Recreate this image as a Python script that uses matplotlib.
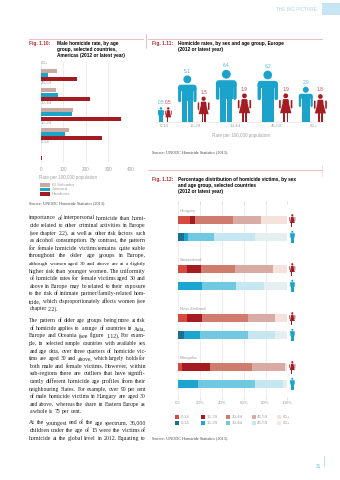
import matplotlib
matplotlib.use('Agg')
import matplotlib.pyplot as plt
import matplotlib as mpl
from matplotlib.patches import Rectangle, Circle, FancyBboxPatch, Polygon
import numpy as np

mpl.rcParams['font.family'] = 'Liberation Sans'

# Fig. 1.10 - male homicide rate by age group, Americas
age_groups_110 = ['60+', '45-59', '30-44', '15-29', '0-14']
countries_110 = ['El Salvador', 'Jamaica', 'Honduras']
el_salvador = [74, 67, 145, 127, 1]
jamaica = [32, 78, 138, 109, 1]
honduras = [163, 219, 355, 274, 4]
rate_ticks = [0, 100, 200, 300, 400]

# Fig. 1.11 - homicide rates by sex and age group, Europe
ages_111 = ['0-14', '15-29', '30-44', '45-59', '60+']
male_rate = [0.5, 5.1, 6.4, 6.2, 2.9]
female_rate = [0.5, 1.5, 1.9, 1.9, 1.8]

# Fig. 1.12 - percentage distribution by sex and age group
countries_112 = ['Hungary', 'Switzerland', 'New Zealand', 'Mongolia']
ages_112 = ['0-14', '15-29', '30-44', '45-59', '60+']
female_share = [[11, 4, 35, 26, 24],
                [8, 13, 31, 35, 13],
                [8, 14, 42, 25, 11],
                [3, 26, 39, 30, 2]]
male_share = [[5, 4, 24, 37, 30],
              [0, 22, 31, 26, 21],
              [5, 15, 44, 25, 11],
              [0, 18, 52, 26, 4]]
pct_ticks = [0, 20, 40, 60, 80, 100]

RED = '#b8262c'
GREY = '#a0a0a0'
CYAN = '#1ba3cb'
DARKRED = '#a51c22'
TEXT = '#231f20'
SERIF = 'Liberation Serif'
colors_110 = ['#c9a9a1', '#1ba3c9', '#a21c22']
female_colors = ['#d64a3f', '#a41c22', '#cf7c6e', '#d8aca4', '#f6e2dc']
male_colors = ['#1c6f93', '#1ba6cf', '#70c8e1', '#c6e7f1', '#e6efef']

fig = plt.figure(figsize=(3.4, 4.8), dpi=100)
pg = fig.add_axes([0, 0, 1, 1])
pg.set_xlim(0, 340)
pg.set_ylim(480, 0)
pg.axis('off')
renderer = fig.canvas.get_renderer()


def box(x0, y0, x1, y1):
    # pixel box -> figure fraction rect
    return [x0 / 340, 1 - y1 / 480, (x1 - x0) / 340, (y1 - y0) / 480]


def male_icon(ax, cx, yb, h, color):
    w = 0.40 * h
    r = 0.085 * h
    top = yb - 0.80 * h
    ax.add_patch(Circle((cx, yb - h + r), r, color=color, lw=0))
    ax.add_patch(FancyBboxPatch((cx - w / 2, top), w, 0.14 * h,
                                boxstyle=f'round,pad=0,rounding_size={0.06 * h}', color=color, lw=0))
    ax.add_patch(Rectangle((cx - 0.3 * w, top + 0.05 * h), 0.6 * w, 0.31 * h, color=color, lw=0))
    for s in (-1, 1):
        ax.add_patch(FancyBboxPatch((cx + s * 0.415 * w - 0.085 * w, top + 0.05 * h), 0.17 * w, 0.33 * h,
                                    boxstyle=f'round,pad=0,rounding_size={0.04 * h}', color=color, lw=0))
        ax.add_patch(Rectangle((cx + s * 0.15 * w - 0.14 * w, yb - 0.46 * h), 0.28 * w, 0.46 * h,
                               color=color, lw=0))


def female_icon(ax, cx, yb, h, color):
    w = 0.50 * h
    r = 0.085 * h
    ax.add_patch(Circle((cx, yb - h + r), r, color=color, lw=0))
    ax.add_patch(FancyBboxPatch((cx - 0.22 * w, yb - 0.80 * h), 0.44 * w, 0.16 * h,
                                boxstyle=f'round,pad=0,rounding_size={0.05 * h}', color=color, lw=0))
    ax.add_patch(Polygon([(cx - 0.2 * w, yb - 0.70 * h), (cx + 0.2 * w, yb - 0.70 * h),
                          (cx + 0.4 * w, yb - 0.30 * h), (cx - 0.4 * w, yb - 0.30 * h)],
                         closed=True, color=color, lw=0))
    for s in (-1, 1):
        ax.add_patch(FancyBboxPatch((cx + s * 0.41 * w - 0.06 * w, yb - 0.77 * h), 0.12 * w, 0.30 * h,
                                    boxstyle=f'round,pad=0,rounding_size={0.03 * h}', color=color, lw=0))
        ax.add_patch(Rectangle((cx + s * 0.11 * w - 0.05 * w, yb - 0.32 * h), 0.10 * w, 0.32 * h,
                               color=color, lw=0))


def natural_width(line, size):
    t = pg.text(0, 0, line, fontsize=size, family=SERIF)
    wd = t.get_window_extent(renderer).width
    t.remove()
    return wd


def paragraph(lines, x0, y0, width, size, lead, justify_last=False):
    for i, line in enumerate(lines):
        y = y0 + i * lead
        last = (i == len(lines) - 1 and not justify_last)
        # nudge each line's size a little so the spacing stays even
        sz = size
        if not last:
            sz = size * min(1.04, max(0.93, width / natural_width(line, size)))
        words = line.split(' ')
        ts = [pg.text(x0, y, wd, fontsize=sz, family=SERIF, color=TEXT, va='baseline')
              for wd in words]
        ws = [t.get_window_extent(renderer).width for t in ts]
        if last or len(words) == 1:
            gap = sz * 100 / 72 * 0.25
        else:
            gap = (width - sum(ws)) / (len(words) - 1)
        x = x0
        for t, wd in zip(ts, ws):
            t.set_x(x)
            x += wd + gap


# header
pg.text(276, 9.5, 'THE BIG PICTURE', fontsize=3.4, color='#a8d6e7', va='center')
pg.add_patch(Rectangle((321.7, 3.3), 18.3, 11.7, color='#c4e5f1', lw=0))
pg.plot([29, 143], [39.3, 39.3], color='#e2a7a7', lw=0.5)
pg.plot([148, 322], [39.3, 39.3], color='#e2a7a7', lw=0.5)
pg.plot([145.7, 145.7], [34, 48], color='#e2a7a7', lw=0.5)
pg.plot([148, 322], [169.5, 169.5], color='#e2a7a7', lw=0.5)
pg.plot([321.7, 321.7], [165, 176], color='#f0d0d0', lw=0.5)

# titles
TS = 3.45
LS = 5.8
pg.text(29, 44, 'Fig. 1.10:', fontsize=TS, color=RED, weight='bold', va='center')
for i, s in enumerate(['Male homicide rate, by age', 'group, selected countries,',
                       'Americas (2012 or latest year)']):
    pg.text(56.7, 44 + i * LS, s, fontsize=TS, color='black', weight='bold', va='center')
pg.text(152, 44, 'Fig. 1.11:', fontsize=TS, color=RED, weight='bold', va='center')
for i, s in enumerate(['Homicide rates, by sex and age group, Europe', '(2012 or latest year)']):
    pg.text(178.3, 44 + i * LS, s, fontsize=TS, color='black', weight='bold', va='center')
pg.text(152, 180, 'Fig. 1.12:', fontsize=TS, color=RED, weight='bold', va='center')
for i, s in enumerate(['Percentage distribution of homicide victims, by sex',
                       'and age group, selected countries', '(2012 or latest year)']):
    pg.text(178.3, 180 + i * LS, s, fontsize=TS, color='black', weight='bold', va='center')

# ---- Fig. 1.10 ----
ax1 = fig.add_axes(box(40.7, 62, 130.7, 163))
ax1.set_facecolor('none')
ax1.set_xlim(0, 400)
ax1.set_ylim(163, 62)
group_top = 63.5 + np.arange(len(age_groups_110)) * 19.7
for s, vals in enumerate([el_salvador, jamaica, honduras]):
    ax1.barh(group_top + 7 + s * 4.4, vals, height=4.0, color=colors_110[s], lw=0, zorder=2)
for y, age in zip(group_top, age_groups_110):
    ax1.text(0, y, age, fontsize=3.2, color=GREY, va='center', ha='left')
ax1.set_xticks(rate_ticks)
ax1.set_xticklabels([str(t) for t in rate_ticks], fontsize=3.3, color=GREY)
ax1.set_yticks([])
ax1.tick_params(axis='x', length=0, pad=3.2)
ax1.grid(axis='x', color='#e4e4e4', lw=0.5, zorder=0)
for sp in ax1.spines.values():
    sp.set_visible(False)

pg.text(39, 178, 'Rate per 100,000 population', fontsize=3.3, color=GREY, va='center')
for s, name in enumerate(countries_110):
    y = 185 + s * 4.4
    pg.add_patch(Rectangle((40, y - 1.7), 10, 3.4, color=colors_110[s], lw=0))
    pg.text(51.7, y, name, fontsize=3.2, color=GREY, va='center')
pg.text(29, 203.3, 'Source: UNODC Homicide Statistics (2013).', fontsize=3.1, family=SERIF,
        color='#444444', va='center')

# ---- Fig. 1.11 ----
base = 121.7
k = 20.5
pg.plot([156, 321], [base + 0.6, base + 0.6], color='#e6e6e6', lw=0.5)
x = 158.0
for age, mv, fv in zip(ages_111, male_rate, female_rate):
    hm, hf = k * np.sqrt(mv), k * np.sqrt(fv)
    wm, wf = 0.40 * hm, 0.48 * hf
    mx = x + wm / 2
    x += wm + 1.0
    fx = x + wf / 2
    x += wf + 6.3
    male_icon(pg, mx, base, hm, CYAN)
    female_icon(pg, fx, base, hf, DARKRED)
    pg.text(mx, base - hm - 4.3, f'{mv:.1f}', fontsize=3.4, color='#4ab8d9', ha='center', va='center')
    pg.text(fx, base - hf - 4.3, f'{fv:.1f}', fontsize=3.4, color='#c4454a', ha='center', va='center')
    pg.text((mx + fx) / 2, 126.3, age, fontsize=3.2, color=GREY, ha='center', va='center')
pg.text(241.3, 136, 'Rate per 100,000 population', fontsize=3.3, color=GREY, ha='center', va='center')
pg.text(152, 151.7, 'Source: UNODC Homicide Statistics (2013).', fontsize=3.1, family=SERIF,
        color='#444444', va='center')

# ---- Fig. 1.12 ----
ax3 = fig.add_axes(box(178.3, 204, 287.3, 397))
ax3.set_facecolor('none')
ax3.set_xlim(0, 100)
ax3.set_ylim(397, 204)
fy = 220.5 + np.arange(len(countries_112)) * 49.0
my = fy + 16.3
fem = np.array(female_share, dtype=float)
mal = np.array(male_share, dtype=float)
lf = np.zeros(len(countries_112))
lm = np.zeros(len(countries_112))
for j in range(len(ages_112)):
    ax3.barh(fy, fem[:, j], left=lf, height=8, color=female_colors[j], lw=0, zorder=2)
    ax3.barh(my, mal[:, j], left=lm, height=8, color=male_colors[j], lw=0, zorder=2)
    lf += fem[:, j]
    lm += mal[:, j]
for y, name in zip(fy, countries_112):
    ax3.text(1.5, y - 9.8, name, fontsize=3.2, color=GREY, va='center', ha='left')
ax3.set_xticks(pct_ticks)
ax3.set_xticklabels([f'{t}%' for t in pct_ticks], fontsize=3.2, color=GREY)
ax3.set_yticks([])
ax3.tick_params(axis='x', top=True, bottom=True, direction='out', length=2.2, width=0.4,
                color='#c8c8c8', pad=1.0)
ax3.grid(axis='x', color='#e6e6e6', lw=0.5, zorder=0)
for sp in ax3.spines.values():
    sp.set_visible(False)
for y1, y2 in zip(fy, my):
    female_icon(pg, 292.3, y1 + 6.3, 12.6, DARKRED)
    male_icon(pg, 292.3, y2 + 6.0, 12.0, CYAN)

for row, cols in enumerate([female_colors, male_colors]):
    y = 416.7 + row * 6.6
    for j, age in enumerate(ages_112):
        lx = 175 + j * 25.5
        pg.add_patch(Rectangle((lx, y - 2), 4.3, 4, color=cols[j], lw=0))
        pg.text(lx + 5.8, y, age, fontsize=3.2, color=GREY, va='center')
pg.text(152, 438.3, 'Source: UNODC Homicide Statistics (2013).', fontsize=3.1, family=SERIF,
        color='#444444', va='center')

# page number
pg.text(319, 467, '31', fontsize=3.5, color='#6fbfdc', ha='center', va='center')
pg.plot([324, 324], [456, 466], color='#a8d6e7', lw=0.5)

# ---- body text ----
p1 = ['importance of interpersonal homicide than homi-',
      'cide related to other criminal activities in Europe',
      '(see chapter 2.2), as well as other risk factors such',
      'as alcohol consumption. By contrast, the pattern',
      'for female homicide victims remains quite stable',
      'throughout the older age groups in Europe,',
      'although women aged 30 and above are at a slightly',
      'higher risk than younger women. The uniformity',
      'of homicide rates for female victims aged 30 and',
      'above in Europe may be related to their exposure',
      'to the risk of intimate partner/family-related hom-',
      'icide, which disproportionately affects women (see',
      'chapter 2.2).']
p2 = ['The pattern of older age groups being more at risk',
      'of homicide applies to a range of countries in Asia,',
      'Europe and Oceania (see figure 1.12). For exam-',
      'ple, in selected sample countries with available sex',
      'and age data, over three quarters of homicide vic-',
      'tims are aged 30 and above, which largely holds for',
      'both male and female victims. However, within',
      'sub-regions there are outliers that have signifi-',
      'cantly different homicide age profiles from their',
      'neighbouring States. For example, over 90 per cent',
      'of male homicide victims in Hungary are aged 30',
      'and above, whereas the share in Eastern Europe as',
      'a whole is 75 per cent.']
p3 = ['At the youngest end of the age spectrum, 36,000',
      'children under the age of 15 were the victims of',
      'homicide at the global level in 2012. Equating to']

col_w = 116.5
full_lines = p1[:-1] + p2[:-1] + p3
widths = sorted(natural_width(l, 4.0) for l in full_lines)
body = 4.0 * 0.97 * col_w / widths[len(widths) // 2]
paragraph(p1, 29.3, 219.5, col_w, body, 7.58)
paragraph(p2, 29.3, 322.3, col_w, body, 7.58)
paragraph(p3, 29.3, 424.5, col_w, body, 7.58, justify_last=True)

fig.savefig('out.png', dpi=100)
